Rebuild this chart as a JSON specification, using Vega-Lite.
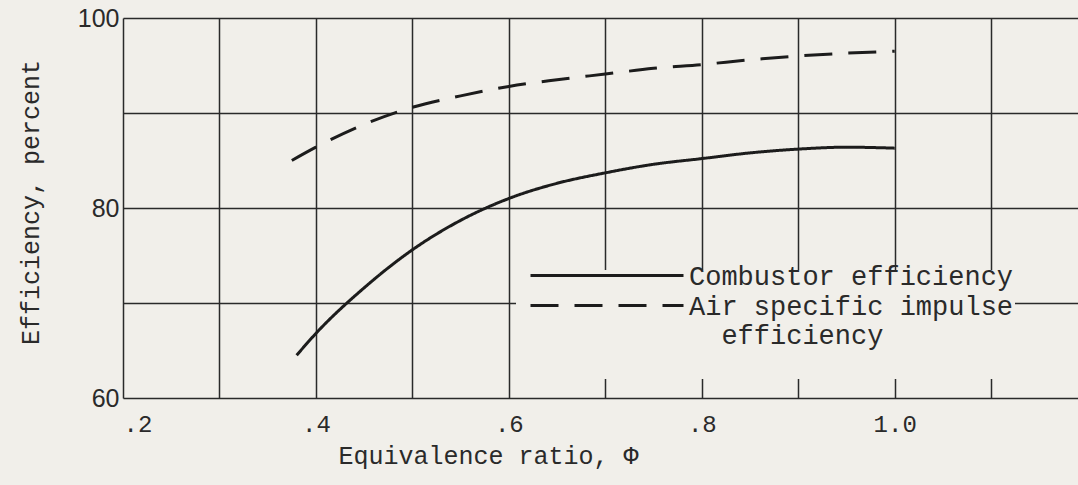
{
  "$schema": "https://vega.github.io/schema/vega-lite/v6.json",
  "width": 955,
  "height": 380,
  "autosize": {"type": "none"},
  "padding": {"left": 123, "top": 18, "right": 0, "bottom": 87},
  "background": "#f1efea",
  "config": {"view": {"stroke": null}, "font": "Liberation Mono"},
  "data": {
    "values": [
      {"phi": 0.38, "eff": 64.5, "series": "Combustor efficiency"},
      {"phi": 0.40, "eff": 66.8, "series": "Combustor efficiency"},
      {"phi": 0.45, "eff": 71.6, "series": "Combustor efficiency"},
      {"phi": 0.50, "eff": 75.6, "series": "Combustor efficiency"},
      {"phi": 0.55, "eff": 78.7, "series": "Combustor efficiency"},
      {"phi": 0.60, "eff": 81.0, "series": "Combustor efficiency"},
      {"phi": 0.65, "eff": 82.6, "series": "Combustor efficiency"},
      {"phi": 0.70, "eff": 83.7, "series": "Combustor efficiency"},
      {"phi": 0.75, "eff": 84.6, "series": "Combustor efficiency"},
      {"phi": 0.80, "eff": 85.2, "series": "Combustor efficiency"},
      {"phi": 0.85, "eff": 85.8, "series": "Combustor efficiency"},
      {"phi": 0.90, "eff": 86.2, "series": "Combustor efficiency"},
      {"phi": 0.95, "eff": 86.4, "series": "Combustor efficiency"},
      {"phi": 1.00, "eff": 86.3, "series": "Combustor efficiency"},
      {"phi": 0.375, "eff": 85.0, "series": "Air specific impulse efficiency"},
      {"phi": 0.40, "eff": 86.4, "series": "Air specific impulse efficiency"},
      {"phi": 0.45, "eff": 88.8, "series": "Air specific impulse efficiency"},
      {"phi": 0.50, "eff": 90.6, "series": "Air specific impulse efficiency"},
      {"phi": 0.55, "eff": 91.8, "series": "Air specific impulse efficiency"},
      {"phi": 0.60, "eff": 92.8, "series": "Air specific impulse efficiency"},
      {"phi": 0.65, "eff": 93.5, "series": "Air specific impulse efficiency"},
      {"phi": 0.70, "eff": 94.1, "series": "Air specific impulse efficiency"},
      {"phi": 0.75, "eff": 94.7, "series": "Air specific impulse efficiency"},
      {"phi": 0.80, "eff": 95.1, "series": "Air specific impulse efficiency"},
      {"phi": 0.85, "eff": 95.6, "series": "Air specific impulse efficiency"},
      {"phi": 0.90, "eff": 96.0, "series": "Air specific impulse efficiency"},
      {"phi": 0.95, "eff": 96.3, "series": "Air specific impulse efficiency"},
      {"phi": 1.00, "eff": 96.5, "series": "Air specific impulse efficiency"}
    ]
  },
  "mark": {"type": "line", "interpolate": "monotone", "strokeWidth": 3, "color": "#1c1c1c"},
  "encoding": {
    "x": {
      "field": "phi",
      "type": "quantitative",
      "scale": {"domain": [0.2, 1.19], "nice": false, "zero": false},
      "axis": {
        "values": [0.2, 0.3, 0.4, 0.5, 0.6, 0.7, 0.8, 0.9, 1.0, 1.1],
        "grid": true,
        "gridColor": "#2a2a2a",
        "gridWidth": 1.5,
        "gridOpacity": 1,
        "domain": false,
        "ticks": false,
        "labelExpr": "datum.value == 0.2 ? '.2' : datum.value == 0.4 ? '.4' : datum.value == 0.6 ? '.6' : datum.value == 0.8 ? '.8' : datum.value == 1 ? '1.0' : ''",
        "labelFont": "Liberation Mono",
        "labelFontSize": 24,
        "labelColor": "#2a2a2a",
        "labelPadding": 14,
        "title": "Equivalence ratio, Φ",
        "titleFont": "Liberation Mono",
        "titleFontSize": 25,
        "titleFontWeight": "normal",
        "titleColor": "#2a2a2a",
        "titleX": 365,
        "titleY": 57,
        "titleAlign": "center",
        "titleBaseline": "middle"
      }
    },
    "y": {
      "field": "eff",
      "type": "quantitative",
      "scale": {"domain": [60, 100], "nice": false, "zero": false},
      "axis": {
        "values": [60, 70, 80, 90, 100],
        "grid": true,
        "gridColor": "#2a2a2a",
        "gridWidth": 1.5,
        "gridOpacity": 1,
        "domain": false,
        "ticks": false,
        "labelExpr": "datum.value % 20 == 0 ? datum.label : ''",
        "labelFont": "Liberation Sans",
        "labelFontSize": 25,
        "labelColor": "#2a2a2a",
        "labelPadding": 4,
        "title": "Efficiency, percent",
        "titleFont": "Liberation Mono",
        "titleFontSize": 25,
        "titleFontWeight": "normal",
        "titleColor": "#2a2a2a",
        "titleX": -93,
        "titleY": 184,
        "titleAlign": "center",
        "titleBaseline": "middle"
      }
    },
    "strokeDash": {
      "field": "series",
      "type": "nominal",
      "sort": ["Combustor efficiency", "Air specific impulse efficiency"],
      "scale": {
        "domain": ["Combustor efficiency", "Air specific impulse efficiency"],
        "range": [[1, 0], [28, 16]]
      },
      "legend": {
        "title": null,
        "orient": "none",
        "legendX": 393,
        "legendY": 252,
        "fillColor": "#f1efea",
        "padding": 1,
        "symbolType": "M0,-1.8H30.6",
        "symbolSize": 100,
        "symbolStrokeWidth": 3,
        "symbolStrokeColor": "#1c1c1c",
        "symbolFillColor": "transparent",
        "labelFont": "Liberation Mono",
        "labelFontSize": 27,
        "labelColor": "#2a2a2a",
        "labelBaseline": "alphabetic",
        "labelOffset": 145,
        "labelLimit": 0,
        "rowPadding": 2,
        "labelExpr": "datum.label == 'Air specific impulse efficiency' ? ['Air specific impulse', '\\u200b\\u00a0\\u00a0efficiency', '\\u200b'] : datum.label"
      }
    }
  }
}
